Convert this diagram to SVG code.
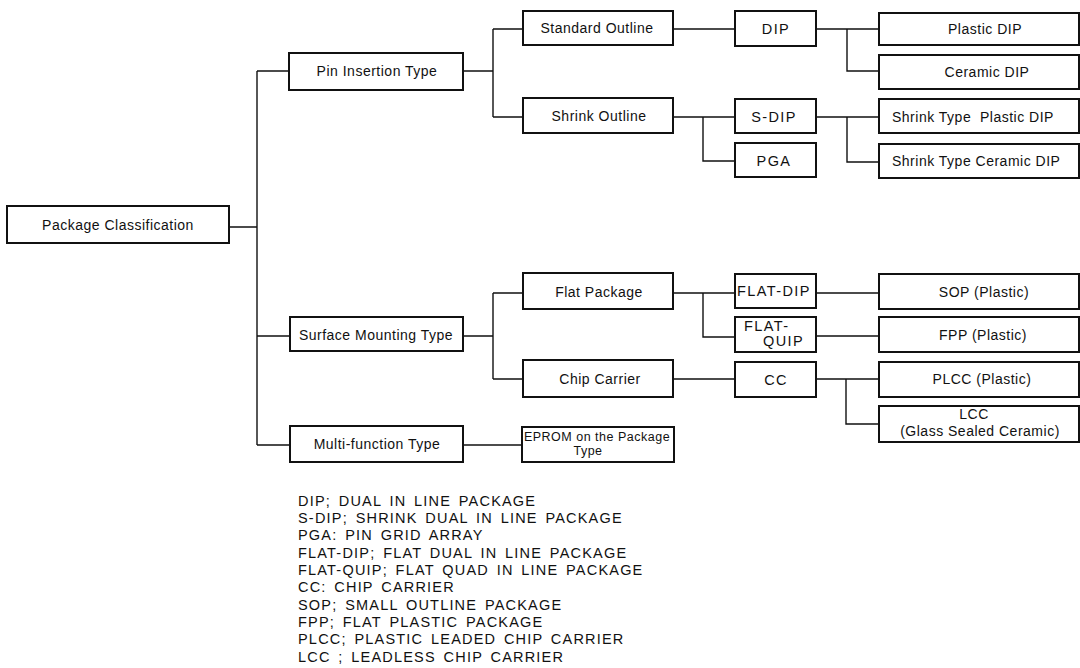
<svg xmlns="http://www.w3.org/2000/svg" width="1080" height="668" viewBox="0 0 1080 668">
<style>
.b{fill:#fff;stroke:#111;stroke-width:2}
.t{font-family:"Liberation Sans",Arial,sans-serif;font-size:14px;letter-spacing:0.5px;fill:#111;text-anchor:middle}
.s{font-size:12.5px}
.l{text-anchor:start}
.w{font-size:14.5px;letter-spacing:1.4px}
.c{stroke:#111;stroke-width:1.4;fill:none}
.g{font-family:"Liberation Sans",Arial,sans-serif;font-size:14.5px;letter-spacing:1.2px;word-spacing:2.5px;fill:#111}
</style>
<rect width="1080" height="668" fill="#fff"/>
<g id="connectors" class="c">
<path d="M229 227H257M257 71V445M257 71H289M257 336H290M257 445H290"/>
<path d="M463 71H493M493 29V117M493 29H523M493 117H523"/>
<path d="M673 29H735M816 29H879M847 29V71H879"/>
<path d="M673 117H735M703 117V161H735M816 117H879M847 117V162H879"/>
<path d="M463 336H493M493 293V379M493 293H523M493 379H523"/>
<path d="M673 293H735M703 293V337H735M816 293H879M816 336H879"/>
<path d="M673 379H735M816 379H879M846 379V424H879"/>
<path d="M463 445H522"/>
</g>
<g id="n-package-classification"><rect class="b" x="7" y="206" width="222" height="37"/><text class="t" x="118" y="230">Package Classification</text></g>
<g id="n-pin-insertion"><rect class="b" x="289" y="53" width="174" height="37"/><text class="t" x="377" y="76">Pin Insertion Type</text></g>
<g id="n-surface-mounting"><rect class="b" x="290" y="317" width="173" height="34"/><text class="t" x="376" y="340">Surface Mounting Type</text></g>
<g id="n-multi-function"><rect class="b" x="290" y="426" width="173" height="36"/><text class="t" x="377" y="449">Multi-function Type</text></g>
<g id="n-standard-outline"><rect class="b" x="523" y="11" width="150" height="34"/><text class="t" x="597" y="33">Standard Outline</text></g>
<g id="n-shrink-outline"><rect class="b" x="523" y="98" width="150" height="35"/><text class="t" x="599" y="121">Shrink Outline</text></g>
<g id="n-flat-package"><rect class="b" x="523" y="273" width="150" height="36"/><text class="t" x="599" y="297">Flat Package</text></g>
<g id="n-chip-carrier"><rect class="b" x="523" y="360" width="150" height="37"/><text class="t" x="600" y="384">Chip Carrier</text></g>
<g id="n-eprom"><rect class="b" x="522" y="427" width="152" height="35"/><text class="t s" x="597" y="441">EPROM on the Package</text><text class="t s" x="588" y="455">Type</text></g>
<g id="n-dip"><rect class="b" x="735" y="11" width="81" height="35"/><text class="t w" x="776" y="34">DIP</text></g>
<g id="n-s-dip"><rect class="b" x="735" y="99" width="81" height="34"/><text class="t w" x="774" y="122">S-DIP</text></g>
<g id="n-pga"><rect class="b" x="735" y="143" width="81" height="34"/><text class="t w" x="774" y="166">PGA</text></g>
<g id="n-flat-dip"><rect class="b" x="735" y="274" width="81" height="34"/><text class="t l w" x="737" y="296">FLAT-DIP</text></g>
<g id="n-flat-quip"><rect class="b" x="735" y="317" width="81" height="35"/><text class="t l w" x="744" y="331">FLAT-</text><text class="t l w" x="763" y="346">QUIP</text></g>
<g id="n-cc"><rect class="b" x="735" y="362" width="81" height="35"/><text class="t w" x="776" y="385">CC</text></g>
<g id="n-plastic-dip"><rect class="b" x="879" y="13" width="200" height="32"/><text class="t" x="985" y="34">Plastic DIP</text></g>
<g id="n-ceramic-dip"><rect class="b" x="879" y="55" width="200" height="34"/><text class="t" x="987" y="77">Ceramic DIP</text></g>
<g id="n-shrink-plastic-dip"><rect class="b" x="879" y="99" width="200" height="34"/><text class="t l" x="892" y="122" style="white-space:pre">Shrink Type  Plastic DIP</text></g>
<g id="n-shrink-ceramic-dip"><rect class="b" x="879" y="144" width="200" height="34"/><text class="t l" x="892" y="166">Shrink Type Ceramic DIP</text></g>
<g id="n-sop"><rect class="b" x="879" y="274" width="200" height="35"/><text class="t" x="984" y="297">SOP (Plastic)</text></g>
<g id="n-fpp"><rect class="b" x="879" y="317" width="200" height="35"/><text class="t" x="983" y="340">FPP (Plastic)</text></g>
<g id="n-plcc"><rect class="b" x="879" y="362" width="200" height="35"/><text class="t" x="982" y="384">PLCC (Plastic)</text></g>
<g id="n-lcc"><rect class="b" x="879" y="406" width="200" height="36"/><text class="t" x="974" y="419">LCC</text><text class="t" x="980" y="436">(Glass Sealed Ceramic)</text></g>
<g id="legend" class="g">
<text x="298" y="506">DIP; DUAL IN LINE PACKAGE</text>
<text x="298" y="523">S-DIP; SHRINK DUAL IN LINE PACKAGE</text>
<text x="298" y="540">PGA: PIN GRID ARRAY</text>
<text x="298" y="558">FLAT-DIP; FLAT DUAL IN LINE PACKAGE</text>
<text x="298" y="575">FLAT-QUIP; FLAT QUAD IN LINE PACKAGE</text>
<text x="298" y="592">CC: CHIP CARRIER</text>
<text x="298" y="610">SOP; SMALL OUTLINE PACKAGE</text>
<text x="298" y="627">FPP; FLAT PLASTIC PACKAGE</text>
<text x="298" y="644">PLCC; PLASTIC LEADED CHIP CARRIER</text>
<text x="298" y="662">LCC ; LEADLESS CHIP CARRIER</text>
</g>
</svg>
